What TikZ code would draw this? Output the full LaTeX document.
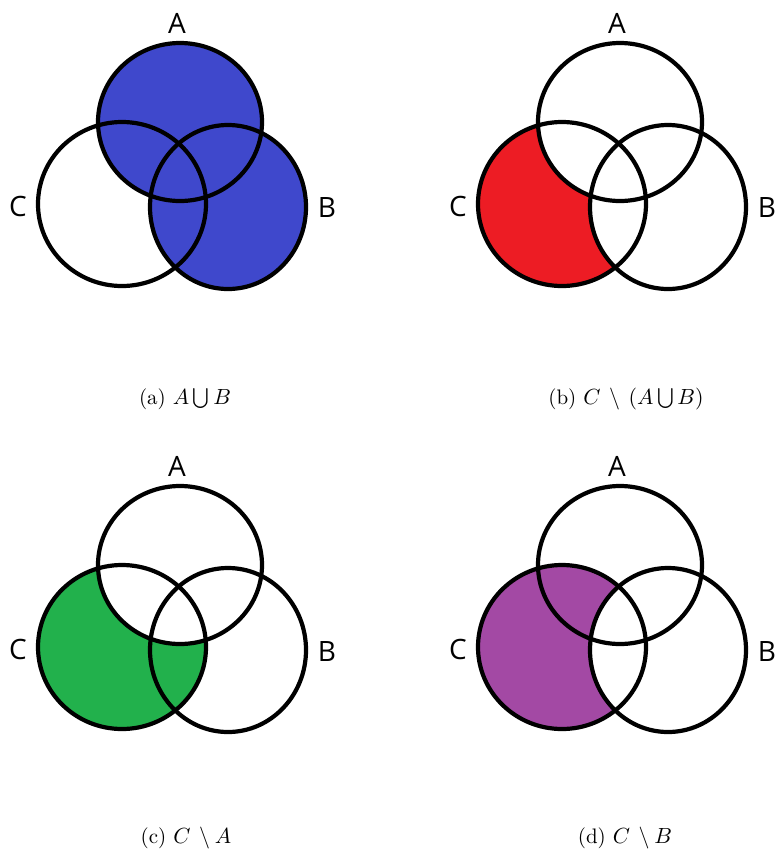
\documentclass[tikz,border=0pt]{standalone}
\usepackage{fontspec}
\newfontfamily\lblfont{Open Sans}
\definecolor{pblue}{RGB}{63,72,204}
\definecolor{pred}{RGB}{237,28,36}
\definecolor{pgreen}{RGB}{34,177,76}
\definecolor{ppurple}{RGB}{163,73,164}
\newcommand\circA{(180,122) ellipse [x radius=82, y radius=79]}
\newcommand\circC{(122,204) ellipse [x radius=84, y radius=82]}
\newcommand\circB{(228,207) ellipse [x radius=78, y radius=82]}
\newcommand\outlines[1]{%
  \draw[outline] \circA;
  \draw[outline] \circC;
  \draw[outline] \circB;
  \node[setlabel] (#1A) at (177,23) {A};
  \node[setlabel] (#1C) at (18,206) {C};
  \node[setlabel] (#1B) at (327,208) {B};
}
\begin{document}
\begin{tikzpicture}[x=0.5pt,y=-0.5pt,
  outline/.style={draw=black,line width=2.1pt},
  setlabel/.style={font=\lblfont\fontsize{14}{16}\selectfont, inner sep=0pt},
  capt/.style={anchor=base, inner sep=0pt, font=\fontsize{10.5}{12.5}\selectfont}]
\useasboundingbox (0,0) rectangle (775,852);
\fill[white] (0,0) rectangle (775,852);
% (a)
\begin{scope}
  \fill[pblue] \circA;
  \fill[pblue] \circB;
  \outlines{a}
\end{scope}
% (b)
\begin{scope}[shift={(440,0)}]
  \fill[pred] \circC;
  \fill[white] \circA;
  \fill[white] \circB;
  \outlines{b}
\end{scope}
% (c)
\begin{scope}[shift={(0,443)}]
  \fill[pgreen] \circC;
  \fill[white] \circA;
  \outlines{c}
\end{scope}
% (d)
\begin{scope}[shift={(440,443)}]
  \fill[ppurple] \circC;
  \fill[white] \circB;
  \outlines{d}
\end{scope}
\node[capt] (capa) at (185,404) {(a) $A\bigcup B$};
\node[capt] (capb) at (626,404) {(b) $C\,\setminus\,(A\bigcup B)$};
\node[capt] (capc) at (186,843) {(c) $C\,\setminus A$};
\node[capt] (capd) at (625,843) {(d) $C\,\setminus B$};
\end{tikzpicture}
\end{document}
